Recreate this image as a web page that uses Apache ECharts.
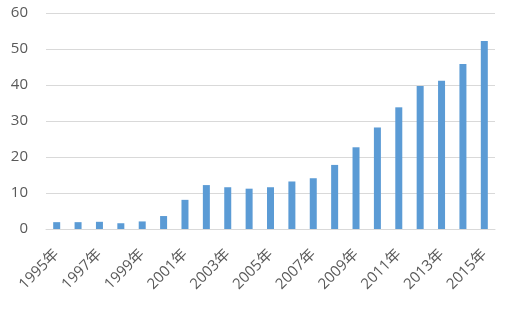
<!DOCTYPE html>
<html><head><meta charset="utf-8">
<script src="https://cdn.jsdelivr.net/npm/echarts@6/dist/echarts.min.js"></script>
<style>html,body{margin:0;padding:0;background:#fff}#c{width:511px;height:314px}</style>
</head><body><div id="c"></div>
<script>
const categories = ['1995年','1996年','1997年','1998年','1999年','2000年','2001年','2002年','2003年','2004年','2005年','2006年','2007年','2008年','2009年','2010年','2011年','2012年','2013年','2014年','2015年'];
const values = [1.9,1.9,2.0,1.6,2.1,3.6,8.1,12.2,11.6,11.2,11.6,13.2,14.1,17.8,22.7,28.2,33.8,39.7,41.2,45.8,52.2];
const yTicks = [0,10,20,30,40,50,60];
const chart = echarts.init(document.getElementById('c'));
chart.setOption({
  animation:false,
  grid:{left:46,right:16,top:13,bottom:85},
  xAxis:{type:'category',data:categories,
    axisLine:{lineStyle:{color:'#d9d9d9'}},axisTick:{show:false},
    axisLabel:{interval:1,rotate:45,color:'#595959',fontSize:15,fontFamily:'Open Sans, Liberation Sans, Noto Sans CJK SC',margin:23}},
  yAxis:{type:'value',min:yTicks[0],max:yTicks[yTicks.length-1],interval:10,
    axisLine:{show:false},axisTick:{show:false},
    axisLabel:{color:'#595959',fontSize:15,fontFamily:'Open Sans, Liberation Sans',margin:18},
    splitLine:{lineStyle:{color:'#d9d9d9'}}},
  series:[{type:'bar',data:values,barWidth:7,itemStyle:{color:'#5b9bd5'}}]
});
</script></body></html>
